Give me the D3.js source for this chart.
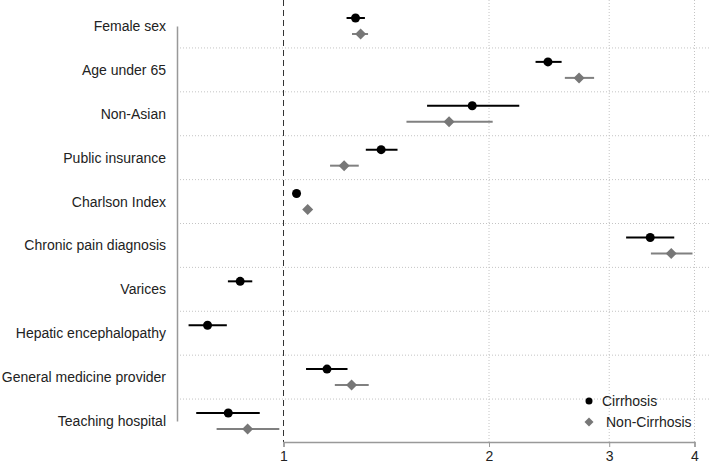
<!DOCTYPE html>
<html><head><meta charset="utf-8">
<script src="https://cdn.jsdelivr.net/npm/d3@7"></script>
<style>body{margin:0;background:#fff}svg{display:block}text{font-family:"Liberation Sans",Arial,Helvetica,sans-serif}</style>
</head><body><svg id="c" width="709" height="466"></svg>
<script>
const categories = ["Female sex","Age under 65","Non-Asian","Public insurance","Charlson Index","Chronic pain diagnosis","Varices","Hepatic encephalopathy","General medicine provider","Teaching hospital"];
const cirrEst = [1.275,2.44,1.89,1.39,1.045,3.445,0.864,0.774,1.158,0.83];
const cirrLo  = [1.237,2.34,1.623,1.32,1.04,3.176,0.829,0.726,1.079,0.745];
const cirrHi  = [1.316,2.555,2.215,1.469,1.05,3.736,0.900,0.826,1.241,0.923];
const nonEst = [1.297,2.71,1.748,1.227,1.085,3.698,null,null,1.258,0.886];
const nonLo  = [1.26,2.583,1.514,1.17,1.08,3.453,null,null,1.189,0.798];
const nonHi  = [1.33,2.851,2.025,1.289,1.09,3.973,null,null,1.333,0.986];
const xTicks = [1,2,3,4];
const seriesNames = ["Cirrhosis","Non-Cirrhosis"];

const svg = d3.select("#c");
const x = d3.scaleLog().domain([1,4]).range([283.5,694.5]);
const y = d3.scalePoint().domain(categories).range([26,421]);
const step = y.step();
const off = 8;

svg.append("g").selectAll("line").data(categories.slice(1)).join("line")
  .attr("x1",180).attr("x2",709)
  .attr("y1",d=>y(d)-step/2).attr("y2",d=>y(d)-step/2)
  .attr("stroke","#c4c4c4").attr("stroke-width",1).attr("stroke-dasharray","1,2");
svg.append("g").selectAll("line").data(xTicks.slice(1)).join("line")
  .attr("x1",d=>x(d)).attr("x2",d=>x(d)).attr("y1",0).attr("y2",442)
  .attr("stroke","#c4c4c4").attr("stroke-width",1).attr("stroke-dasharray","1,2");
svg.append("line").attr("x1",x(1)).attr("x2",x(1)).attr("y1",0).attr("y2",442)
  .attr("stroke","#333").attr("stroke-width",1).attr("stroke-dasharray","6,4");

const yAx = svg.append("g").attr("transform","translate(177,0)")
  .call(d3.axisLeft(y).tickSize(0).tickPadding(11));
yAx.select(".domain").attr("stroke","#999").attr("stroke-width",1.5);
yAx.selectAll("text").attr("font-size",14).attr("fill","#222");

const xAx = svg.append("g").attr("transform","translate(0,442)")
  .call(d3.axisBottom(x).tickValues(xTicks).tickFormat(d3.format("d")).tickSizeOuter(0).tickSize(5).tickPadding(4));
xAx.select(".domain").attr("stroke","#999").attr("stroke-width",1.5);
xAx.selectAll(".tick line").attr("stroke","#999");
xAx.selectAll("text").attr("font-size",14).attr("fill","#222");

const diamond = (cx,cy,r)=>`M${cx},${cy-r}L${cx+r},${cy}L${cx},${cy+r}L${cx-r},${cy}Z`;

const cirr = categories.map((c,i)=>({c,e:cirrEst[i],lo:cirrLo[i],hi:cirrHi[i]}));
const non = categories.map((c,i)=>({c,e:nonEst[i],lo:nonLo[i],hi:nonHi[i]})).filter(d=>d.e!=null);

svg.append("g").selectAll("line").data(non).join("line")
  .attr("x1",d=>x(d.lo)).attr("x2",d=>x(d.hi)).attr("y1",d=>y(d.c)+off).attr("y2",d=>y(d.c)+off)
  .attr("stroke","#808080").attr("stroke-width",2);
svg.append("g").selectAll("path").data(non).join("path")
  .attr("d",d=>diamond(x(d.e),y(d.c)+off,5.5)).attr("fill","#777");

svg.append("g").selectAll("line").data(cirr).join("line")
  .attr("x1",d=>x(d.lo)).attr("x2",d=>x(d.hi)).attr("y1",d=>y(d.c)-off).attr("y2",d=>y(d.c)-off)
  .attr("stroke","#000").attr("stroke-width",2);
svg.append("g").selectAll("circle").data(cirr).join("circle")
  .attr("cx",d=>x(d.e)).attr("cy",d=>y(d.c)-off).attr("r",4.5).attr("fill","#000");

const lg = svg.append("g");
lg.append("circle").attr("cx",589).attr("cy",401).attr("r",3.5).attr("fill","#000");
lg.append("text").attr("x",602).attr("y",401).attr("dy","0.35em").attr("font-size",14).attr("fill","#222").text(seriesNames[0]);
lg.append("path").attr("d",diamond(589,422,4.5)).attr("fill","#777");
lg.append("text").attr("x",606).attr("y",422).attr("dy","0.35em").attr("font-size",14).attr("fill","#222").text(seriesNames[1]);
</script></body></html>
